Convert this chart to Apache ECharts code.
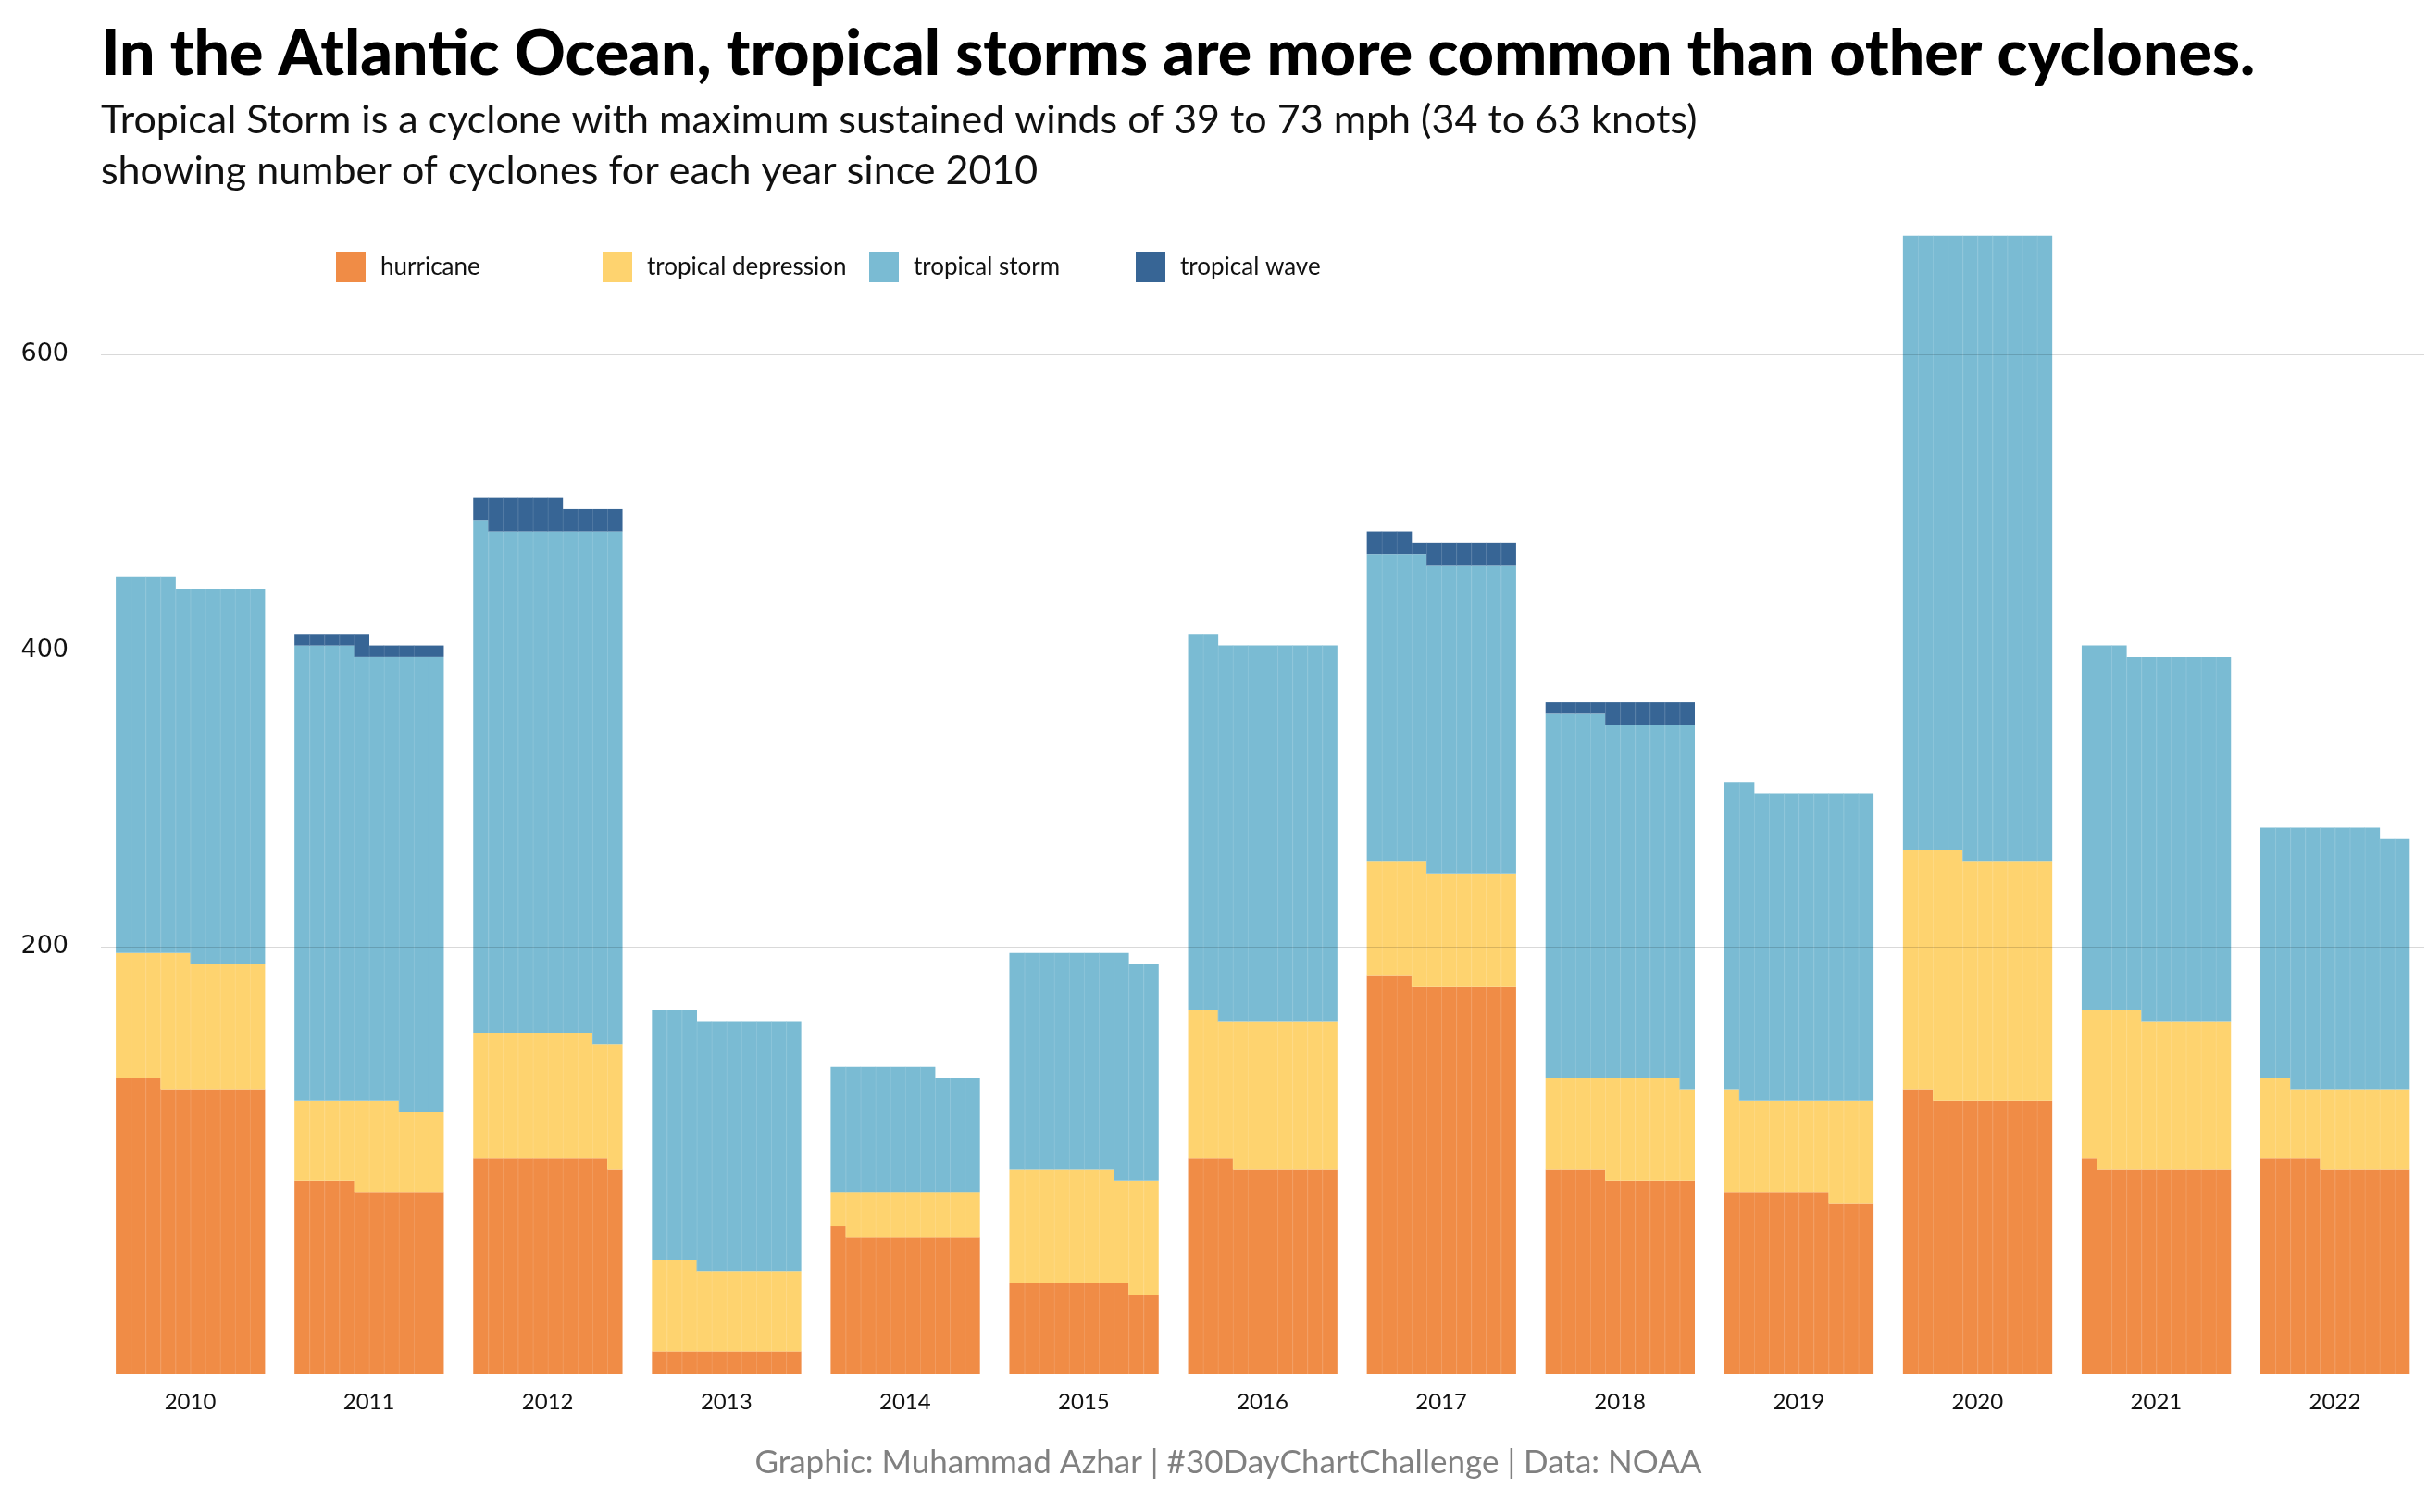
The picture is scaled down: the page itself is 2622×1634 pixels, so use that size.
<!DOCTYPE html>
<html>
<head>
<meta charset="utf-8">
<style>
  html, body { margin: 0; padding: 0; background: #ffffff; }
  #chart { width: 2622px; height: 1634px; }
</style>
<script src="https://cdn.jsdelivr.net/npm/echarts@6/dist/echarts.min.js"></script>
</head>
<body>
<div id="chart"></div>
<script>
// ---- data (number of waffle cells per year) ----
const years = ['2010','2011','2012','2013','2014','2015','2016','2017','2018','2019','2020','2021','2022'];
const hurricane          = [253, 164, 189,  20, 121,  78, 183, 343, 174, 157, 242, 181, 184];
const tropicalDepression = [112,  73, 109,  73,  39,  99, 129, 101,  85,  84, 212, 133,  68];
const tropicalStorm      = [329, 397, 443, 220, 107, 191, 330, 270, 315, 271, 546, 319, 226];
const tropicalWave       = [  0,  11,  25,   0,   0,   0,   0,  19,  16,   0,   0,   0,   0];
const yTickLabels = [200, 400, 600];

// ---- layout / scale constants ----
const COLS = 10;            // waffle columns per year
const SLOT = 12;            // band width in columns (10 cells + gap)
const ROW_UNITS = 7.69;     // axis units occupied by one waffle row
const BASE = -88.56;        // axis value at the bottom of the bars

const categories = [
  { name: 'hurricane',           values: hurricane,          color: '#F08C46' },
  { name: 'tropical depression', values: tropicalDepression, color: '#FED36F' },
  { name: 'tropical storm',      values: tropicalStorm,      color: '#7ABBD3' },
  { name: 'tropical wave',       values: tropicalWave,       color: '#376595' }
];

// rows filled in column c after the first n cells (row-major, left to right)
function colRows(n, c) {
  return Math.floor(n / COLS) + (c < n % COLS ? 1 : 0);
}

const cum = years.map(() => 0);
const seriesData = categories.map(cat => {
  const items = [];
  years.forEach((y, i) => {
    const prev = cum[i];
    const cur = prev + cat.values[i];
    for (let c = 0; c < COLS; c++) {
      const s = colRows(prev, c), e = colRows(cur, c);
      if (e > s) items.push([i, c, s, e]);
    }
    cum[i] = cur;
  });
  return items;
});

function makeRender(color) {
  return function (params, api) {
    const i = api.value(0), c = api.value(1), s = api.value(2), e = api.value(3);
    const center = api.coord([i, BASE]);
    const band = api.size([1, 0])[0];
    const cw = band / SLOT;
    const x = center[0] - (COLS / 2) * cw + c * cw;
    const yTop = api.coord([i, BASE + e * ROW_UNITS])[1];
    const yBot = api.coord([i, BASE + s * ROW_UNITS])[1];
    const children = [{
      type: 'rect',
      shape: { x: x, y: yTop, width: cw + 0.4, height: yBot - yTop },
      style: { fill: color }
    }];
    if (c > 0) {
      children.push({
        type: 'line',
        shape: { x1: x + 0.5, y1: yTop, x2: x + 0.5, y2: yBot },
        style: { stroke: 'rgba(255,255,255,0.13)', lineWidth: 1 }
      });
    }
    return { type: 'group', children: children };
  };
}

const series = categories.map((cat, k) => {
  const s = {
    name: cat.name,
    type: 'custom',
    renderItem: makeRender(cat.color),
    data: seriesData[k],
    encode: { x: 0, y: [2, 3] },
    itemStyle: { color: cat.color },
    silent: true,
    animation: false
  };
  if (k === 0) {
    s.markLine = {
      silent: true,
      symbol: ['none', 'none'],
      label: { show: false },
      lineStyle: { color: 'rgba(0,0,0,0.15)', width: 1.2, type: 'solid' },
      emphasis: { disabled: true },
      data: yTickLabels.map(v => ({ yAxis: v })),
      z: 10,
      animation: false
    };
  }
  return s;
});

const legends = categories.map((cat, k) => ({
  left: 358 + 288 * k, top: 267,
  icon: 'rect',
  itemWidth: 32, itemHeight: 33,
  selectedMode: false,
  textStyle: { fontFamily: 'Lato', fontSize: 26, color: '#111111', padding: [0, 0, 0, 11] },
  data: [cat.name]
}));

const chart = echarts.init(document.getElementById('chart'), null, { renderer: 'canvas' });
chart.setOption({
  backgroundColor: '#ffffff',
  animation: false,
  title: [
    {
      text: 'In the Atlantic Ocean, tropical storms are more common than other cyclones.',
      left: 104, top: 20,
      textStyle: { fontFamily: 'Lato', fontWeight: 900, fontSize: 68, color: '#000000' }
    },
    {
      text: 'Tropical Storm is a cyclone with maximum sustained winds of 39 to 73 mph (34 to 63 knots)\nshowing number of cyclones for each year since 2010',
      left: 104, top: 98,
      textStyle: { fontFamily: 'Lato', fontWeight: 400, fontSize: 43, lineHeight: 55, color: '#111111' }
    },
    {
      text: 'Graphic: Muhammad Azhar | #30DayChartChallenge | Data: NOAA',
      left: 1322, top: 1558, textAlign: 'center',
      textStyle: { fontFamily: 'Lato', fontWeight: 400, fontSize: 35, color: '#808080' }
    }
  ],
  legend: legends,
  grid: { left: 109, right: 3, top: 240, bottom: 149, containLabel: false },
  xAxis: {
    type: 'category',
    data: years,
    boundaryGap: true,
    axisLine: { show: false },
    axisTick: { show: false },
    splitLine: { show: false },
    axisLabel: { fontFamily: 'Lato', fontSize: 24, color: '#111111', margin: 18 }
  },
  yAxis: {
    type: 'value',
    min: BASE,
    max: 689.6,
    axisLine: { show: false },
    axisTick: { show: false },
    splitLine: { show: false },
    axisLabel: {
      customValues: yTickLabels,
      fontFamily: 'DejaVu Sans', fontSize: 27, color: '#111111', margin: 35
    }
  },
  series: series
});
</script>
</body>
</html>
